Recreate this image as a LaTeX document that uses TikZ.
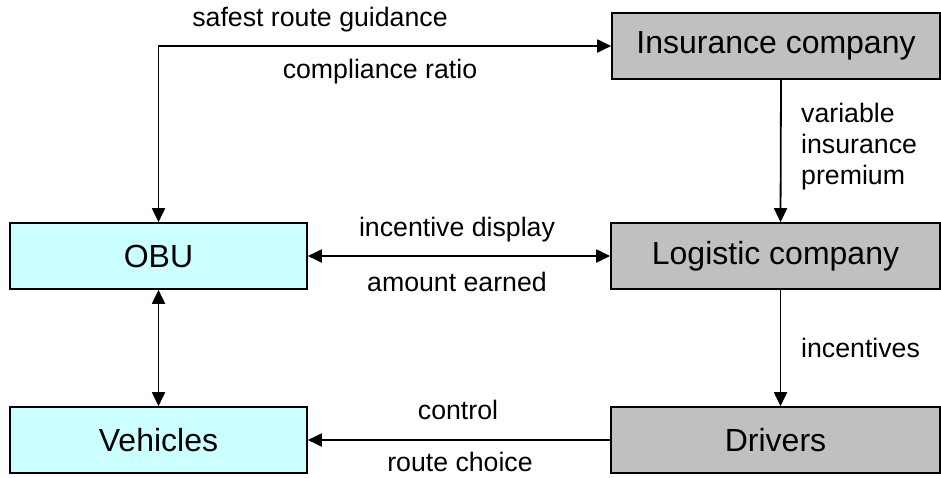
\documentclass[tikz,border=0pt]{standalone}
\usepackage{fontspec}
\setmainfont{Liberation Sans}
\usetikzlibrary{arrows.meta}
\definecolor{obucyan}{HTML}{CCFFFF}
\definecolor{orggrey}{HTML}{C0C0C0}
\tikzset{
  box/.style={draw=black, line width=1.6pt, minimum height=66pt, inner sep=0pt,
    font=\fontsize{32}{37}\selectfont},
  techbox/.style={box, fill=obucyan, minimum width=297pt},
  orgbox/.style={box, fill=orggrey, minimum width=329pt},
  flow/.style={line width=1.8pt, -{Triangle[length=14pt,width=13pt]}},
  bothflow/.style={line width=1.8pt, {Triangle[length=14pt,width=13pt]}-{Triangle[length=14pt,width=13pt]}},
  lbl/.style={font=\fontsize{26.7}{31}\selectfont, inner sep=0pt},
}
\begin{document}
\begin{tikzpicture}[x=1pt,y=-1pt]
  \useasboundingbox (0,0) rectangle (941,477);
  % technical side
  \node[techbox] (obu) at (158.5,256) {OBU};
  \node[techbox] (veh) at (158.5,440) {Vehicles};
  % organisational side
  \node[orgbox, minimum width=328pt] (ins) at (776,46) {Insurance company};
  \node[orgbox] (log) at (775.5,256) {Logistic company};
  \node[orgbox] (drv) at (775.5,440) {Drivers};

  % connectors
  \draw[bothflow] (ins.west) -| (obu.north);
  \draw[flow] ([xshift=5pt]ins.south) -- ([xshift=5pt]log.north);
  \draw[bothflow] (obu.east) -- (log.west);
  \draw[flow] ([xshift=5pt]log.south) -- ([xshift=5pt]drv.north);
  \draw[bothflow] (obu.south) -- (veh.north);
  \draw[flow] (drv.west) -- (veh.east);

  % labels
  \node[lbl] (l1) at (320,20) {safest route guidance};
  \node[lbl] (l2) at (380,72) {compliance ratio};
  \node[lbl, anchor=west, align=left] (l3) at (801,147) {variable\\insurance\\premium};
  \node[lbl] (l4) at (457,230) {incentive display};
  \node[lbl] (l5) at (457,282) {amount earned};
  \node[lbl, anchor=west] (l6) at (801,348) {incentives};
  \node[lbl] (l7) at (458,410) {control};
  \node[lbl] (l8) at (460,462) {route choice};
\end{tikzpicture}
\end{document}
